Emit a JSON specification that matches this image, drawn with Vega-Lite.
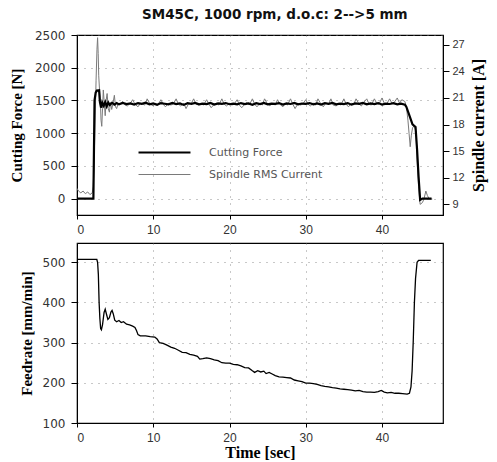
{
  "$schema": "https://vega.github.io/schema/vega-lite/v6.json",
  "padding": {"left": 8, "top": 7, "right": 2, "bottom": 2},
  "background": "white",
  "title": {"text": "SM45C, 1000 rpm, d.o.c: 2-->5 mm", "font": "DejaVu Sans", "fontSize": 13.5, "fontWeight": "bold", "anchor": "middle", "color": "#111", "offset": 7, "dx": 27},
  "spacing": 6,
  "config": {
    "view": {"stroke": "#000", "strokeWidth": 1.2},
    "axis": {"labelFont": "DejaVu Sans", "labelFontSize": 12, "labelColor": "#333", "titleFont": "Liberation Serif", "titleFontWeight": "bold", "titleFontSize": 15, "titleColor": "#000", "domainColor": "#000", "tickColor": "#000", "tickSize": 6, "labelPadding": 6, "gridColor": "#777", "gridDash": [1, 6], "gridOpacity": 0.8}
  },
  "datasets": {
    "force": [
      {"t":0,"f":0},{"t":1,"f":0},{"t":2.15,"f":0},{"t":2.3,"f":1500},{"t":2.45,"f":1620},{"t":2.6,"f":1650},{"t":2.9,"f":1655},{"t":3.0,"f":1480},{"t":3.15,"f":1390},{"t":3.3,"f":1470},{"t":3.5,"f":1420},{"t":3.7,"f":1475},{"t":3.9,"f":1410},{"t":4.1,"f":1470},{"t":4.3,"f":1430},{"t":4.6,"f":1465},{"t":4.9,"f":1435},{"t":5.2,"f":1460},{"t":5.5,"f":1440},{"t":6.0,"f":1462},{"t":6.5,"f":1445},{"t":7.0,"f":1455},{"t":7.5,"f":1438},{"t":8.0,"f":1460},{"t":8.5,"f":1448},{"t":9.0,"f":1465},{"t":9.5,"f":1440},{"t":10.0,"f":1455},{"t":10.5,"f":1435},{"t":11,"f":1460},{"t":11.5,"f":1450},{"t":12,"f":1440},{"t":12.5,"f":1462},{"t":13,"f":1445},{"t":13.5,"f":1455},{"t":14,"f":1432},{"t":14.5,"f":1458},{"t":15,"f":1448},{"t":15.5,"f":1462},{"t":16,"f":1440},{"t":16.5,"f":1452},{"t":17,"f":1445},{"t":17.5,"f":1463},{"t":18,"f":1438},{"t":18.5,"f":1455},{"t":19,"f":1447},{"t":19.5,"f":1460},{"t":20,"f":1442},{"t":20.5,"f":1450},{"t":21,"f":1440},{"t":21.5,"f":1460},{"t":22,"f":1445},{"t":22.5,"f":1455},{"t":23,"f":1435},{"t":23.5,"f":1458},{"t":24,"f":1445},{"t":24.5,"f":1462},{"t":25,"f":1440},{"t":25.5,"f":1452},{"t":26,"f":1448},{"t":26.5,"f":1460},{"t":27,"f":1438},{"t":27.5,"f":1455},{"t":28,"f":1446},{"t":28.5,"f":1462},{"t":29,"f":1440},{"t":29.5,"f":1453},{"t":30,"f":1447},{"t":30.5,"f":1460},{"t":31,"f":1442},{"t":31.5,"f":1455},{"t":32,"f":1438},{"t":32.5,"f":1458},{"t":33,"f":1448},{"t":33.5,"f":1462},{"t":34,"f":1440},{"t":34.5,"f":1452},{"t":35,"f":1445},{"t":35.5,"f":1460},{"t":36,"f":1436},{"t":36.5,"f":1455},{"t":37,"f":1448},{"t":37.5,"f":1462},{"t":38,"f":1440},{"t":38.5,"f":1455},{"t":39,"f":1445},{"t":39.5,"f":1460},{"t":40,"f":1438},{"t":40.5,"f":1452},{"t":41,"f":1446},{"t":41.5,"f":1458},{"t":42,"f":1440},{"t":42.5,"f":1450},{"t":43.0,"f":1435},{"t":43.2,"f":1400},{"t":43.6,"f":1270},{"t":44.0,"f":1135},{"t":44.4,"f":1095},{"t":44.6,"f":750},{"t":44.8,"f":330},{"t":45.0,"f":-20},{"t":45.3,"f":0},{"t":46.5,"f":0}
    ],
    "current": [
      {"t":0,"c":10.8},{"t":0.2,"c":10.5},{"t":0.5,"c":10.3},{"t":0.8,"c":10.5},{"t":1.1,"c":10.2},{"t":1.4,"c":10.4},{"t":1.7,"c":10.1},{"t":2.0,"c":10.3},{"t":2.12,"c":11.0},{"t":2.22,"c":13.0},{"t":2.35,"c":17.5},{"t":2.5,"c":23.0},{"t":2.62,"c":26.5},{"t":2.7,"c":27.8},{"t":2.78,"c":26.0},{"t":2.85,"c":23.5},{"t":2.95,"c":22.0},{"t":3.05,"c":21.0},{"t":3.15,"c":18.5},{"t":3.25,"c":17.8},{"t":3.35,"c":19.8},{"t":3.45,"c":21.9},{"t":3.6,"c":20.2},{"t":3.7,"c":19.0},{"t":3.8,"c":20.6},{"t":3.95,"c":21.5},{"t":4.1,"c":19.8},{"t":4.25,"c":19.4},{"t":4.4,"c":20.5},{"t":4.55,"c":19.7},{"t":4.7,"c":20.3},{"t":4.9,"c":21.3},{"t":5.05,"c":20.0},{"t":5.2,"c":19.8},{"t":5.4,"c":20.4},
      {"t":5.6,"c":20.3},{"t":6.0,"c":20.6},{"t":6.3,"c":20.2},{"t":6.6,"c":20.1},{"t":7.0,"c":20.4},{"t":7.3,"c":20.8},{"t":7.6,"c":20.3},{"t":8.0,"c":20.0},{"t":8.3,"c":20.4},{"t":8.6,"c":20.3},{"t":8.9,"c":20.2},{"t":9.2,"c":20.9},{"t":9.6,"c":20.3},{"t":10.0,"c":20.1},{"t":10.3,"c":20.4},{"t":10.6,"c":20.2},{"t":11.0,"c":20.8},{"t":11.3,"c":20.3},{"t":11.6,"c":20.0},{"t":12.0,"c":20.4},{"t":12.3,"c":20.2},{"t":12.6,"c":20.3},{"t":13.0,"c":20.9},{"t":13.3,"c":20.3},{"t":13.6,"c":20.1},{"t":14.0,"c":20.4},{"t":14.3,"c":19.8},{"t":14.6,"c":20.3},{"t":15.0,"c":20.4},{"t":15.3,"c":20.9},{"t":15.6,"c":20.3},{"t":16.0,"c":20.2},{"t":16.3,"c":20.4},{"t":16.6,"c":20.2},{"t":17.0,"c":20.8},{"t":17.3,"c":20.3},{"t":17.6,"c":19.9},{"t":18.0,"c":20.3},{"t":18.3,"c":20.4},{"t":18.6,"c":20.2},{"t":19.0,"c":20.9},{"t":19.3,"c":20.3},{"t":19.6,"c":20.1},{"t":20.0,"c":20.4},{"t":20.3,"c":20.2},{"t":20.6,"c":20.3},{"t":21.0,"c":20.8},{"t":21.3,"c":20.2},{"t":21.6,"c":19.9},{"t":22.0,"c":20.3},{"t":22.3,"c":20.5},{"t":22.6,"c":20.2},{"t":23.0,"c":20.9},{"t":23.3,"c":20.3},{"t":23.6,"c":20.0},{"t":24.0,"c":20.4},{"t":24.3,"c":20.2},{"t":24.6,"c":20.9},{"t":25.0,"c":20.3},{"t":25.3,"c":20.1},{"t":25.6,"c":20.4},{"t":26.0,"c":20.2},{"t":26.3,"c":20.8},{"t":26.6,"c":20.3},{"t":27.0,"c":20.0},{"t":27.3,"c":20.4},{"t":27.6,"c":20.2},{"t":28.0,"c":20.9},{"t":28.3,"c":20.3},{"t":28.6,"c":19.8},{"t":29.0,"c":20.4},{"t":29.3,"c":20.2},{"t":29.6,"c":20.3},{"t":30.0,"c":20.8},{"t":30.3,"c":20.3},{"t":30.6,"c":20.1},{"t":31.0,"c":20.4},{"t":31.3,"c":20.2},{"t":31.6,"c":20.9},{"t":32.0,"c":20.3},{"t":32.3,"c":20.0},{"t":32.6,"c":20.4},{"t":33.0,"c":20.3},{"t":33.3,"c":20.9},{"t":33.6,"c":20.2},{"t":34.0,"c":20.1},{"t":34.3,"c":20.4},{"t":34.6,"c":20.2},{"t":35.0,"c":20.9},{"t":35.3,"c":20.3},{"t":35.6,"c":20.0},{"t":36.0,"c":20.4},{"t":36.3,"c":20.3},{"t":36.6,"c":20.9},{"t":37.0,"c":20.3},{"t":37.3,"c":20.1},{"t":37.6,"c":20.5},{"t":38.0,"c":20.9},{"t":38.3,"c":20.3},{"t":38.6,"c":20.2},{"t":39.0,"c":20.9},{"t":39.3,"c":20.4},{"t":39.6,"c":20.3},{"t":40.0,"c":21.0},{"t":40.3,"c":20.4},{"t":40.6,"c":20.3},{"t":41.0,"c":20.9},{"t":41.3,"c":20.4},{"t":41.6,"c":20.5},{"t":42.0,"c":21.0},{"t":42.3,"c":20.4},{"t":42.6,"c":20.8},{"t":43.0,"c":20.6},{"t":43.2,"c":20.0},{"t":43.4,"c":18.5},{"t":43.55,"c":17.0},{"t":43.7,"c":15.5},{"t":43.85,"c":16.8},{"t":44.0,"c":17.6},{"t":44.2,"c":17.9},{"t":44.45,"c":17.2},{"t":44.6,"c":14.0},{"t":44.8,"c":11.0},{"t":45.0,"c":9.0},{"t":45.3,"c":9.2},{"t":45.5,"c":9.6},{"t":45.75,"c":10.5},{"t":45.95,"c":10.0},{"t":46.2,"c":9.6},{"t":46.6,"c":9.6}
    ],
    "feed": [
      {"t":0,"v":507},{"t":2.6,"v":507},{"t":2.7,"v":500},{"t":2.8,"v":470},{"t":2.9,"v":400},{"t":3.0,"v":360},{"t":3.1,"v":335},{"t":3.2,"v":332},{"t":3.35,"v":345},{"t":3.55,"v":375},{"t":3.7,"v":383},{"t":3.85,"v":372},{"t":4.05,"v":358},{"t":4.25,"v":362},{"t":4.45,"v":376},{"t":4.6,"v":380},{"t":4.75,"v":372},{"t":4.95,"v":356},{"t":5.2,"v":352},{"t":5.5,"v":355},{"t":5.8,"v":350},{"t":6.1,"v":352},{"t":6.5,"v":346},{"t":6.9,"v":344},{"t":7.3,"v":341},{"t":7.6,"v":338},{"t":7.8,"v":330},{"t":8.0,"v":320},{"t":8.3,"v":317},{"t":9.0,"v":317},{"t":9.6,"v":315},{"t":10.2,"v":314},{"t":10.5,"v":309},{"t":10.8,"v":300},{"t":11.3,"v":298},{"t":11.8,"v":294},{"t":12.3,"v":289},{"t":12.8,"v":286},{"t":13.3,"v":281},{"t":13.8,"v":276},{"t":14.3,"v":275},{"t":14.8,"v":271},{"t":15.3,"v":269},{"t":15.8,"v":266},{"t":16.1,"v":259},{"t":16.5,"v":260},{"t":17.0,"v":262},{"t":17.5,"v":260},{"t":18.0,"v":257},{"t":18.5,"v":255},{"t":19.0,"v":250},{"t":19.5,"v":249},{"t":20.0,"v":249},{"t":20.5,"v":246},{"t":21.0,"v":245},{"t":21.5,"v":242},{"t":22.0,"v":238},{"t":22.5,"v":237},{"t":23.0,"v":230},{"t":23.3,"v":226},{"t":23.7,"v":230},{"t":24.1,"v":227},{"t":24.5,"v":229},{"t":24.8,"v":223},{"t":25.2,"v":226},{"t":25.6,"v":222},{"t":26.0,"v":218},{"t":26.5,"v":215},{"t":27.0,"v":214},{"t":27.5,"v":213},{"t":28.0,"v":212},{"t":28.5,"v":207},{"t":29.0,"v":205},{"t":29.5,"v":203},{"t":30.0,"v":199},{"t":30.5,"v":199},{"t":31.0,"v":198},{"t":31.5,"v":196},{"t":32.0,"v":193},{"t":32.5,"v":191},{"t":33.0,"v":190},{"t":33.5,"v":188},{"t":34.0,"v":187},{"t":34.5,"v":185},{"t":35.0,"v":184},{"t":35.5,"v":183},{"t":36.0,"v":182},{"t":36.5,"v":180},{"t":37.0,"v":181},{"t":37.5,"v":178},{"t":38.0,"v":177},{"t":38.5,"v":177},{"t":39.0,"v":176},{"t":39.5,"v":178},{"t":39.9,"v":181},{"t":40.3,"v":177},{"t":40.7,"v":175},{"t":41.2,"v":176},{"t":41.7,"v":174},{"t":42.2,"v":174},{"t":42.7,"v":173},{"t":43.3,"v":172},{"t":43.6,"v":174},{"t":43.8,"v":190},{"t":43.95,"v":230},{"t":44.1,"v":305},{"t":44.25,"v":400},{"t":44.4,"v":460},{"t":44.6,"v":500},{"t":44.8,"v":505},{"t":46.4,"v":505}
    ]
  },
  "vconcat": [
    {
      "width": 366,
      "height": 180,
      "layer": [
        {
          "data": {"name": "current"},
          "mark": {"type": "line", "strokeWidth": 1, "clip": true},
          "encoding": {
            "x": {"field": "t", "type": "quantitative", "scale": {"domain": [0, 48], "nice": false}, "axis": {"values": [0, 10, 20, 30, 40], "title": null, "grid": true, "tickSize": 4, "labelPadding": 5, "labelFont": "Liberation Sans", "labelFontSize": 12}},
            "y": {"field": "c", "type": "quantitative", "scale": {"domain": [7.8, 28.1], "nice": false}, "axis": {"orient": "right", "values": [9, 12, 15, 18, 21, 24, 27], "title": "Spindle current [A]", "titleAngle": 270, "titleFontSize": 16, "titlePadding": 22, "labelFont": "Liberation Sans", "labelFontSize": 11, "labelPadding": 3, "grid": false}},
            "color": {"datum": "Spindle RMS Current", "scale": {"domain": ["Cutting Force", "Spindle RMS Current"], "range": ["#000000", "#7a7a7a"]}, "legend": {"orient": "none", "legendX": 82, "legendY": 112, "title": null, "symbolType": "stroke", "symbolSize": 2700, "symbolStrokeWidth": 1.5, "labelFont": "DejaVu Sans", "labelFontSize": 11, "labelColor": "#555", "labelOffset": 39, "rowPadding": 10, "encode": {"symbols": {"update": {"strokeWidth": {"signal": "datum.value === 'Cutting Force' ? 2.2 : 1"}}}}}}
          }
        },
        {
          "data": {"name": "force"},
          "mark": {"type": "line", "strokeWidth": 2.2, "clip": true},
          "encoding": {
            "x": {"field": "t", "type": "quantitative"},
            "y": {"field": "f", "type": "quantitative", "scale": {"domain": [-250, 2500], "nice": false}, "axis": {"orient": "left", "values": [0, 500, 1000, 1500, 2000, 2500], "format": "d", "title": "Cutting Force [N]", "titlePadding": 10, "grid": true}},
            "color": {"datum": "Cutting Force"}
          }
        }
      ],
      "resolve": {"scale": {"y": "independent"}}
    },
    {
      "width": 366,
      "height": 180,
      "data": {"name": "feed"},
      "mark": {"type": "line", "strokeWidth": 1.3, "color": "#000"},
      "encoding": {
        "x": {"field": "t", "type": "quantitative", "scale": {"domain": [0, 48], "nice": false}, "axis": {"values": [0, 10, 20, 30, 40], "title": "Time [sec]", "titleFontSize": 16, "titlePadding": 1, "grid": true, "tickSize": 4, "labelPadding": 5, "labelFont": "Liberation Sans", "labelFontSize": 12}},
        "y": {"field": "v", "type": "quantitative", "scale": {"domain": [100, 548], "nice": false}, "axis": {"values": [100, 200, 300, 400, 500], "title": "Feedrate [mm/min]", "titlePadding": 8, "grid": true}}
      }
    }
  ]
}
